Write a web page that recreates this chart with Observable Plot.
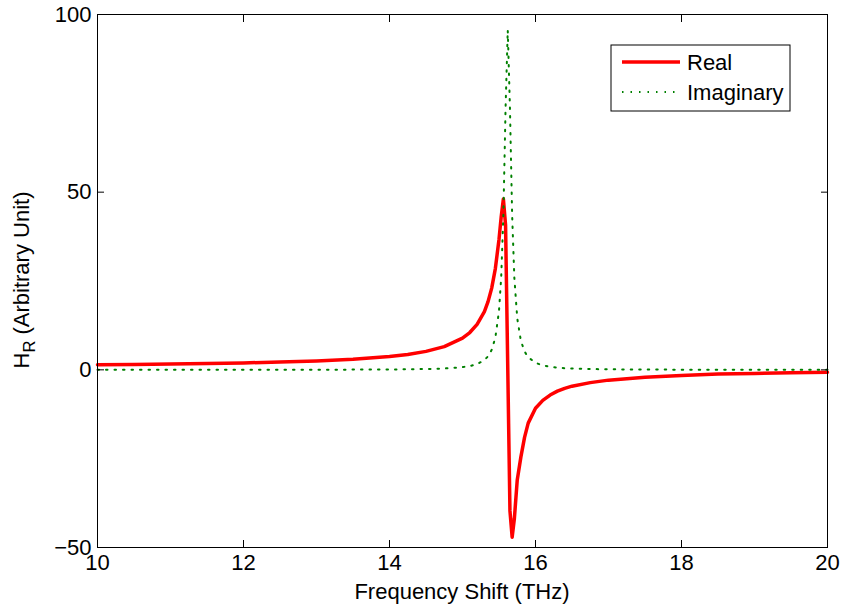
<!DOCTYPE html>
<html><head><meta charset="utf-8">
<script src="https://cdn.jsdelivr.net/npm/d3@7"></script>
<script src="https://cdn.jsdelivr.net/npm/@observablehq/plot@0.6"></script>
<style>
body{margin:0;background:#fff}
#chart svg{font-family:"Liberation Sans",Arial,Helvetica,sans-serif}
</style>
</head><body><div id="chart"></div>
<script>
const freq = [10, 10.5, 11, 11.5, 12, 12.5, 13, 13.5, 14, 14.25, 14.5, 14.75, 15, 15.1, 15.2, 15.3, 15.35, 15.4, 15.45, 15.5, 15.53, 15.56, 15.59, 15.62, 15.65, 15.68, 15.71, 15.75, 15.8, 15.85, 15.9, 16, 16.1, 16.2, 16.3, 16.4, 16.5, 16.75, 17, 17.5, 18, 18.5, 19, 19.5, 20];
const realPart = [1.44, 1.53, 1.64, 1.78, 1.95, 2.18, 2.51, 2.98, 3.74, 4.33, 5.19, 6.52, 8.92, 10.5, 12.8, 16.4, 19.2, 23.0, 28.5, 36.7, 43.0, 48.1, 40.7, 0.5, -39.7, -47.1, -42.0, -31.0, -24.5, -19.0, -15.0, -10.8, -8.6, -7.1, -6.0, -5.2, -4.6, -3.6, -2.9, -2.1, -1.6, -1.2, -1.0, -0.85, -0.7];
const imagPart = [0.01, 0.01, 0.01, 0.02, 0.02, 0.03, 0.04, 0.06, 0.11, 0.15, 0.23, 0.38, 0.75, 1.06, 1.61, 2.74, 3.81, 5.63, 9.06, 16.6, 26.0, 43.6, 73.7, 95.6, 73.7, 43.6, 26.0, 14.5, 8.16, 5.17, 3.55, 1.96, 1.24, 0.85, 0.62, 0.47, 0.37, 0.23, 0.15, 0.08, 0.05, 0.04, 0.03, 0.02, 0.02];
const xTicks = [10, 12, 14, 16, 18, 20];
const yTicks = [-50, 0, 50, 100];
const seriesNames = ["Real", "Imaginary"];
const xLabel = "Frequency Shift (THz)";
const yLabelMain = "H";
const yLabelSub = "R";
const yLabelRest = " (Arbitrary Unit)";

const rows = freq.map((f, i) => ({f, re: realPart[i], im: imagPart[i]}));
const FS = 22;

const chart = Plot.plot({
  width: 843, height: 609,
  marginLeft: 97, marginRight: 16, marginTop: 14, marginBottom: 62,
  style: {fontFamily: "Liberation Sans, Arial, Helvetica, sans-serif", fontSize: FS + "px", background: "#fff", color: "#000", overflow: "visible"},
  x: {domain: [10, 20]},
  y: {domain: [-50, 100]},
  marks: [
    Plot.line(rows, {x: "f", y: "re", stroke: "#ff0000", strokeWidth: 3.5, strokeLinejoin: "round"}),
    Plot.line(rows, {x: "f", y: "im", stroke: "#008000", strokeWidth: 2, strokeDasharray: "1.5,7"}),
    Plot.frame({stroke: "#000", strokeWidth: 1}),
    Plot.axisX(xTicks, {anchor: "bottom", tickSize: -7, tickFormat: () => "", label: null}),
    Plot.axisX(xTicks, {anchor: "top", tickSize: -7, tickFormat: () => "", label: null}),
    Plot.axisY(yTicks, {anchor: "left", tickSize: -7, tickFormat: () => "", label: null}),
    Plot.axisY(yTicks, {anchor: "right", tickSize: -7, tickFormat: () => "", label: null}),
    Plot.axisX(xTicks, {anchor: "bottom", tickSize: 0, tickPadding: 7, label: null, fontSize: FS}),
    Plot.axisY(yTicks, {anchor: "left", tickSize: 0, tickPadding: 6, label: null, fontSize: FS})
  ]
});
document.getElementById("chart").appendChild(chart);

const svg = d3.select(chart);
// x label
svg.append("text").attr("x", 462).attr("y", 599).attr("text-anchor", "middle")
  .attr("font-size", FS).attr("fill", "#000").text(xLabel);
// y label with subscript
const yl = svg.append("text").attr("transform", "translate(29,280) rotate(-90)")
  .attr("text-anchor", "middle").attr("font-size", FS).attr("fill", "#000");
yl.append("tspan").text(yLabelMain);
yl.append("tspan").attr("font-size", FS * 0.75).attr("dy", "0.35em").text(yLabelSub);
yl.append("tspan").attr("dy", "-0.26em").text(yLabelRest);

// legend
const lg = svg.append("g");
lg.append("rect").attr("x", 611).attr("y", 45).attr("width", 179).attr("height", 66)
  .attr("fill", "#fff").attr("stroke", "#000").attr("stroke-width", 1);
const legendStyles = [
  {stroke: "#ff0000", width: 3.5, dash: null},
  {stroke: "#008000", width: 2, dash: "1.5,7"}
];
seriesNames.forEach((name, i) => {
  const yy = 62 + i * 30;
  const s = legendStyles[i];
  const ln = lg.append("line").attr("x1", 622).attr("x2", 680).attr("y1", yy).attr("y2", yy)
    .attr("stroke", s.stroke).attr("stroke-width", s.width);
  if (s.dash) ln.attr("stroke-dasharray", s.dash);
  lg.append("text").attr("x", 687).attr("y", yy).attr("dy", "0.35em")
    .attr("text-anchor", "start")
    .attr("font-size", FS).attr("fill", "#000").text(name);
});
</script>
</body></html>
